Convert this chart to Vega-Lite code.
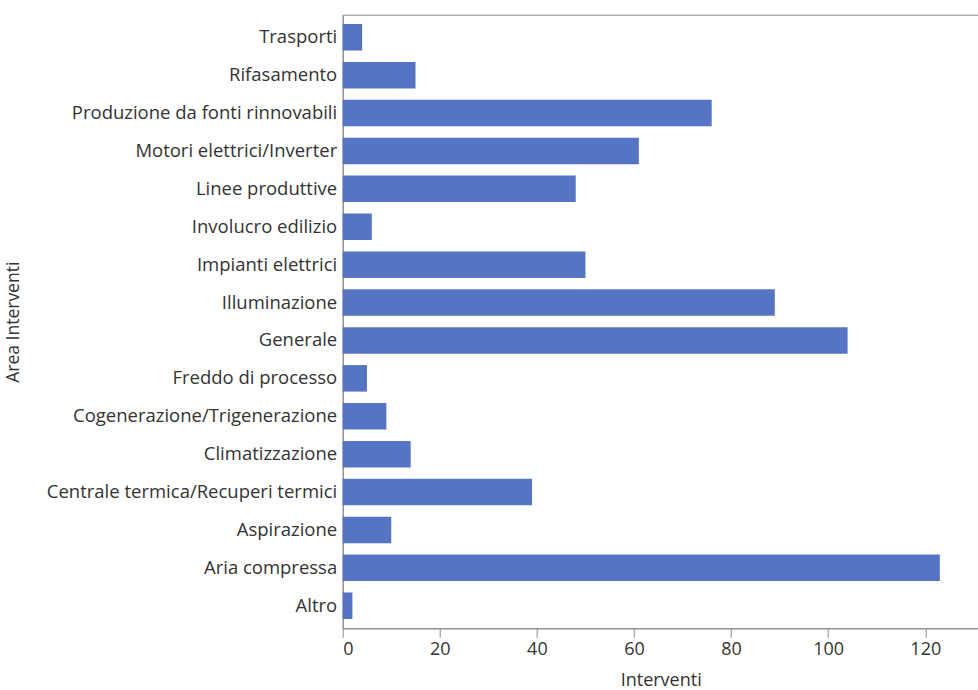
{
  "$schema": "https://vega.github.io/schema/vega-lite/v6.json",
  "autosize": {"type": "none"},
  "width": 636,
  "height": 613.6,
  "padding": {"left": 342.7, "top": 14.7, "right": 0, "bottom": 61.7},
  "background": "white",
  "data": {
    "values": [
      {"area": "Trasporti", "interventi": 4},
      {"area": "Rifasamento", "interventi": 15},
      {"area": "Produzione da fonti rinnovabili", "interventi": 76},
      {"area": "Motori elettrici/Inverter", "interventi": 61},
      {"area": "Linee produttive", "interventi": 48},
      {"area": "Involucro edilizio", "interventi": 6},
      {"area": "Impianti elettrici", "interventi": 50},
      {"area": "Illuminazione", "interventi": 89},
      {"area": "Generale", "interventi": 104},
      {"area": "Freddo di processo", "interventi": 5},
      {"area": "Cogenerazione/Trigenerazione", "interventi": 9},
      {"area": "Climatizzazione", "interventi": 14},
      {"area": "Centrale termica/Recuperi termici", "interventi": 39},
      {"area": "Aspirazione", "interventi": 10},
      {"area": "Aria compressa", "interventi": 123},
      {"area": "Altro", "interventi": 2}
    ]
  },
  "mark": {"type": "bar", "color": "#5575C4"},
  "encoding": {
    "y": {
      "field": "area",
      "type": "nominal",
      "sort": ["Trasporti", "Rifasamento", "Produzione da fonti rinnovabili", "Motori elettrici/Inverter", "Linee produttive", "Involucro edilizio", "Impianti elettrici", "Illuminazione", "Generale", "Freddo di processo", "Cogenerazione/Trigenerazione", "Climatizzazione", "Centrale termica/Recuperi termici", "Aspirazione", "Aria compressa", "Altro"],
      "scale": {"paddingInner": 0.3, "paddingOuter": 0.245},
      "axis": {
        "title": "Area Interventi",
        "ticks": false,
        "labelPadding": 6,
        "labelFont": "Open Sans",
        "labelFontSize": 18.5,
        "labelColor": "#333333",
        "labelLimit": 400,
        "domainColor": "#8c8c8c",
        "titleFont": "Open Sans",
        "titleFontSize": 17.5,
        "titleFontWeight": "normal",
        "titleColor": "#333333",
        "titleAngle": -90,
        "titleX": -329,
        "titleY": 307,
        "titleAlign": "center",
        "titleBaseline": "middle"
      }
    },
    "x": {
      "field": "interventi",
      "type": "quantitative",
      "scale": {"domain": [0, 131], "nice": false},
      "axis": {
        "title": "Interventi",
        "values": [0, 20, 40, 60, 80, 100, 120],
        "grid": false,
        "tickSize": 9,
        "tickColor": "#8c8c8c",
        "domainColor": "#8c8c8c",
        "labelPadding": 3,
        "labelFont": "Open Sans",
        "labelFontSize": 18,
        "labelColor": "#333333",
        "titleFont": "Open Sans",
        "titleFontSize": 18,
        "titleFontWeight": "normal",
        "titleColor": "#333333",
        "titleY": 52,
        "titleBaseline": "middle"
      }
    }
  },
  "config": {
    "view": {"stroke": "#8c8c8c", "strokeWidth": 1}
  }
}
